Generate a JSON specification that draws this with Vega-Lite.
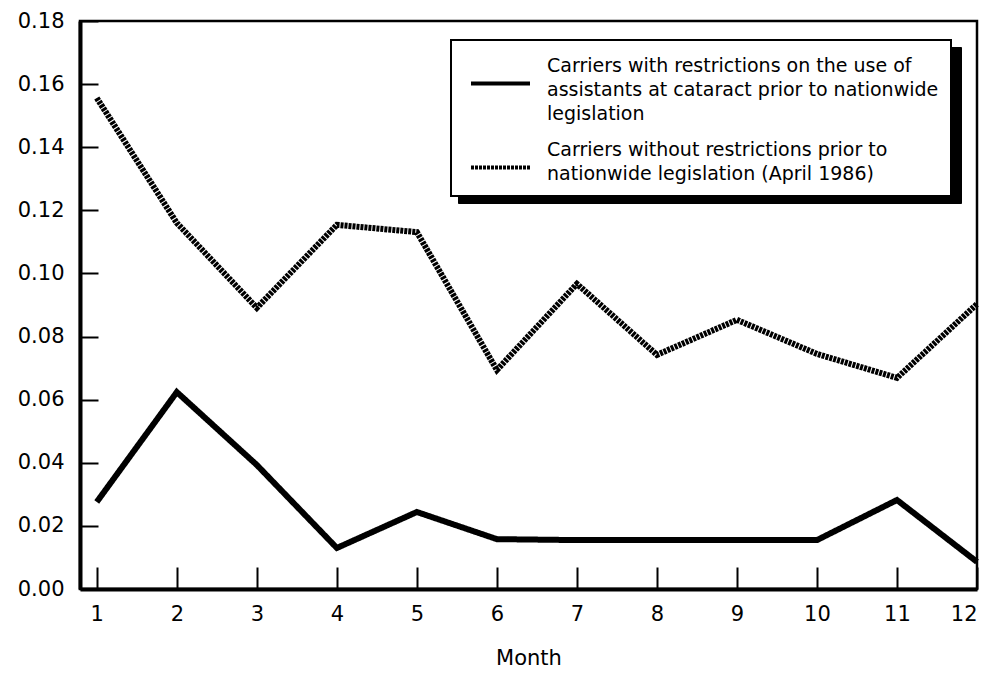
{
  "$schema": "https://vega.github.io/schema/vega-lite/v6.json",
  "autosize": "none",
  "width": 897,
  "height": 568,
  "padding": {"left": 80, "top": 21, "right": 13, "bottom": 84},
  "background": "white",
  "config": {
    "font": "DejaVu Sans",
    "view": {"stroke": "black", "strokeWidth": 2.5},
    "axis": {"grid": false, "domainColor": "black", "tickColor": "black", "labelColor": "black", "titleColor": "black"}
  },
  "data": {
    "values": [
      {"month": 1, "value": 0.0276, "series": "Carriers with restrictions on the use of assistants at cataract prior to nationwide legislation"},
      {"month": 2, "value": 0.0624, "series": "Carriers with restrictions on the use of assistants at cataract prior to nationwide legislation"},
      {"month": 3, "value": 0.0393, "series": "Carriers with restrictions on the use of assistants at cataract prior to nationwide legislation"},
      {"month": 4, "value": 0.0130, "series": "Carriers with restrictions on the use of assistants at cataract prior to nationwide legislation"},
      {"month": 5, "value": 0.0244, "series": "Carriers with restrictions on the use of assistants at cataract prior to nationwide legislation"},
      {"month": 6, "value": 0.0158, "series": "Carriers with restrictions on the use of assistants at cataract prior to nationwide legislation"},
      {"month": 7, "value": 0.0155, "series": "Carriers with restrictions on the use of assistants at cataract prior to nationwide legislation"},
      {"month": 8, "value": 0.0155, "series": "Carriers with restrictions on the use of assistants at cataract prior to nationwide legislation"},
      {"month": 9, "value": 0.0155, "series": "Carriers with restrictions on the use of assistants at cataract prior to nationwide legislation"},
      {"month": 10, "value": 0.0155, "series": "Carriers with restrictions on the use of assistants at cataract prior to nationwide legislation"},
      {"month": 11, "value": 0.0282, "series": "Carriers with restrictions on the use of assistants at cataract prior to nationwide legislation"},
      {"month": 12, "value": 0.0086, "series": "Carriers with restrictions on the use of assistants at cataract prior to nationwide legislation"},
      {"month": 1, "value": 0.1556, "series": "Carriers without restrictions prior to nationwide legislation (April 1986)"},
      {"month": 2, "value": 0.1160, "series": "Carriers without restrictions prior to nationwide legislation (April 1986)"},
      {"month": 3, "value": 0.0891, "series": "Carriers without restrictions prior to nationwide legislation (April 1986)"},
      {"month": 4, "value": 0.1154, "series": "Carriers without restrictions prior to nationwide legislation (April 1986)"},
      {"month": 5, "value": 0.1131, "series": "Carriers without restrictions prior to nationwide legislation (April 1986)"},
      {"month": 6, "value": 0.0694, "series": "Carriers without restrictions prior to nationwide legislation (April 1986)"},
      {"month": 7, "value": 0.0967, "series": "Carriers without restrictions prior to nationwide legislation (April 1986)"},
      {"month": 8, "value": 0.0742, "series": "Carriers without restrictions prior to nationwide legislation (April 1986)"},
      {"month": 9, "value": 0.0853, "series": "Carriers without restrictions prior to nationwide legislation (April 1986)"},
      {"month": 10, "value": 0.0745, "series": "Carriers without restrictions prior to nationwide legislation (April 1986)"},
      {"month": 11, "value": 0.0669, "series": "Carriers without restrictions prior to nationwide legislation (April 1986)"},
      {"month": 12, "value": 0.0903, "series": "Carriers without restrictions prior to nationwide legislation (April 1986)"}
    ]
  },
  "mark": {"type": "line", "strokeWidth": 6, "strokeCap": "butt", "strokeJoin": "miter", "clip": false},
  "encoding": {
    "x": {
      "field": "month", "type": "quantitative",
      "scale": {"domain": [0.79, 12], "nice": false, "zero": false},
      "axis": {
        "values": [1, 2, 3, 4, 5, 6, 7, 8, 9, 10, 11, 12],
        "format": "d",
        "tickSize": -22, "tickWidth": 2, "domainWidth": 4,
        "labelFontSize": 21, "labelPadding": 36,
        "title": "Month", "titleFontSize": 21, "titleFontWeight": "normal", "titlePadding": 23
      }
    },
    "y": {
      "field": "value", "type": "quantitative",
      "scale": {"domain": [0, 0.18], "nice": false},
      "axis": {
        "values": [0, 0.02, 0.04, 0.06, 0.08, 0.1, 0.12, 0.14, 0.16, 0.18],
        "format": ".2f",
        "tickSize": -18, "tickWidth": 2, "domainWidth": 4,
        "labelFontSize": 21, "labelPadding": 34,
        "title": null
      }
    },
    "color": {
      "field": "series", "type": "nominal",
      "scale": {
        "domain": ["Carriers with restrictions on the use of assistants at cataract prior to nationwide legislation", "Carriers without restrictions prior to nationwide legislation (April 1986)"],
        "range": ["black", "black"]
      },
      "legend": {
        "orient": "none", "legendX": 378, "legendY": 26, "zindex": 0,
        "title": null, "fillColor": "black", "strokeColor": "black",
        "padding": 12, "symbolType": "stroke", "symbolSize": 3481, "symbolOffset": 6,
        "symbolStrokeWidth": 4, "symbolStrokeColor": "black",
        "labelFontSize": 19, "labelOffset": 410, "labelLimit": 600, "labelColor": "black", "labelOpacity": 0, "rowPadding": 12,
        "labelExpr": "indexof(datum.label, 'without') >= 0 ? [pad('', 40, '\u00a0'), pad('', 40, '\u00a0')] : [pad('', 65, '\u00a0'), pad('', 65, '\u00a0'), pad('', 20, '\u00a0')]",
        "encode": {"labels": {"update": {"lineHeight": {"value": 24}, "dy": {"value": -17.5}}}}
      }
    },
    "strokeDash": {
      "field": "series", "type": "nominal",
      "scale": {"range": [[1, 0], [3, 1]]},
      "legend": {
        "orient": "none", "legendX": 371, "legendY": 19, "zindex": 1,
        "title": null, "fillColor": "white", "strokeColor": "black",
        "padding": 12, "symbolType": "stroke", "symbolSize": 3481, "symbolOffset": 6,
        "symbolStrokeWidth": 4, "symbolStrokeColor": "black",
        "labelFontSize": 19, "labelOffset": 15, "labelLimit": 600, "labelColor": "black", "rowPadding": 12,
        "labelExpr": "indexof(datum.label, 'without') >= 0 ? ['Carriers without restrictions prior to', 'nationwide legislation (April 1986)'] : ['Carriers with restrictions on the use of', 'assistants at cataract prior to nationwide', 'legislation']",
        "encode": {
          "legend": {"update": {"strokeWidth": {"value": 2}}},
          "labels": {"update": {"lineHeight": {"value": 24}, "dy": {"value": -17.5}}}
        }
      }
    }
  }
}
